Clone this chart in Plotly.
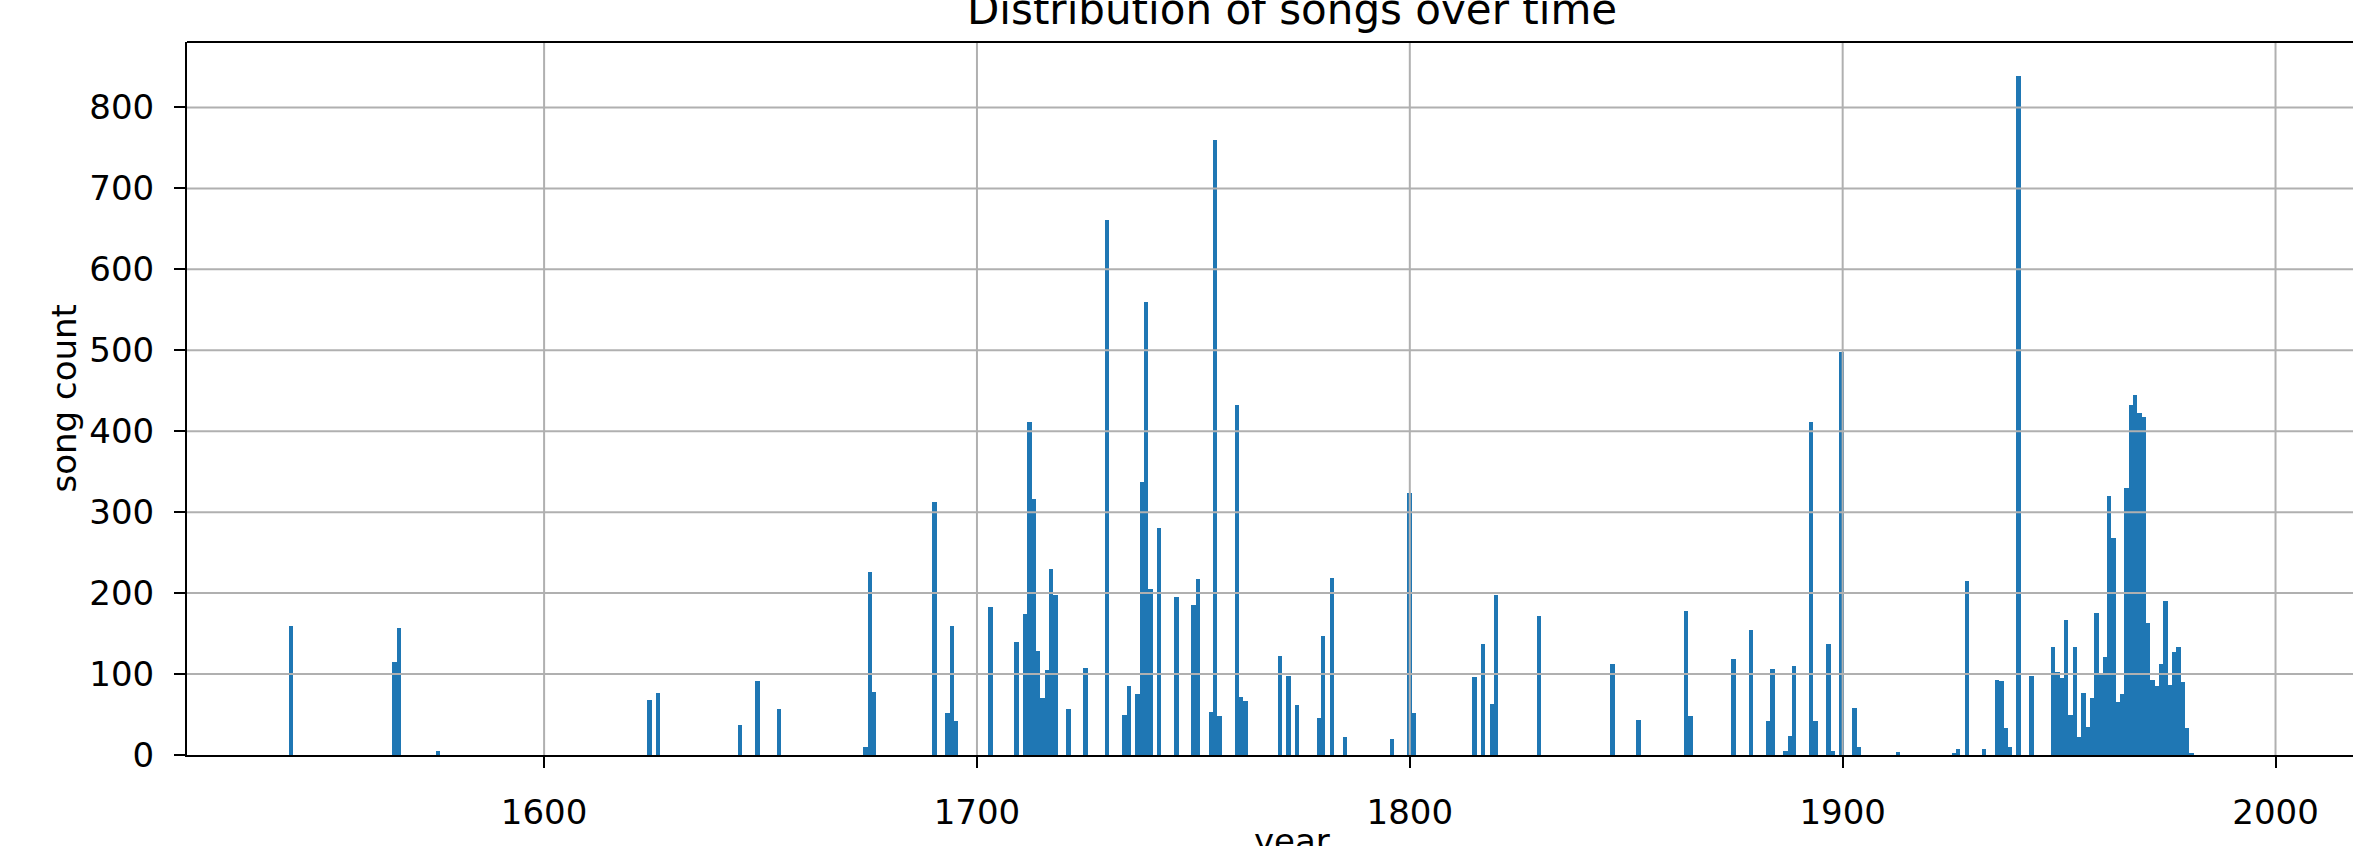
import plotly.graph_objects as go

# Histogram binning of the original: 471 equal bins spanning the year range
BIN_START = 1541
BIN_END = 2011
N_BINS = 471

# Year (integer year falling in a bin) and song count for each non-empty bin
years = [1541, 1565, 1566, 1575, 1624, 1626, 1645, 1649, 1654,
         1674, 1675, 1676, 1690, 1693, 1694, 1695, 1703, 1709,
         1711, 1712, 1713, 1714, 1715, 1716, 1717, 1718, 1721, 1725,
         1730, 1734, 1735, 1737, 1738, 1739, 1740, 1742, 1746,
         1750, 1751, 1754, 1755, 1756, 1760, 1761, 1762,
         1770, 1772, 1774, 1779, 1780, 1782, 1785, 1796,
         1800, 1801, 1815, 1817, 1819, 1820, 1830, 1847, 1853,
         1864, 1865, 1875, 1879, 1883, 1884, 1887, 1888, 1889,
         1893, 1894, 1897, 1898, 1900, 1903, 1904, 1913,
         1926, 1927, 1929, 1933, 1936, 1937, 1938, 1939, 1941, 1944,
         1949, 1950, 1951, 1952, 1953, 1954, 1955, 1956, 1957, 1958,
         1959, 1960, 1961, 1962, 1963, 1964, 1965, 1966, 1967, 1968,
         1969, 1970, 1971, 1972, 1973, 1974, 1975, 1976, 1977, 1978,
         1979, 1980, 1981]
counts = [160, 115, 157, 5, 68, 77, 37, 92, 57,
          10, 226, 78, 313, 52, 160, 42, 183, 140,
          174, 411, 316, 128, 70, 105, 230, 198, 57, 108,
          661, 50, 85, 75, 337, 560, 205, 280, 195,
          185, 218, 53, 760, 48, 433, 72, 67,
          122, 98, 62, 46, 147, 219, 22, 20,
          324, 52, 96, 137, 63, 198, 172, 112, 43,
          178, 48, 118, 155, 42, 106, 5, 23, 110,
          412, 42, 137, 5, 498, 58, 10, 4,
          3, 7, 215, 8, 93, 91, 33, 10, 839, 97,
          133, 102, 95, 167, 50, 133, 22, 76, 35, 70,
          176, 100, 121, 320, 268, 65, 75, 330, 432, 445,
          423, 418, 163, 93, 85, 113, 190, 87, 127, 133,
          90, 33, 2]

x_ticks = [1600, 1700, 1800, 1900, 2000]
y_ticks = [0, 100, 200, 300, 400, 500, 600, 700, 800]

TITLE = "Distribution of songs over time"
X_LABEL = "year"
Y_LABEL = "song count"

BAR_COLOR = "#1f77b4"
GRID_COLOR = "#b0b0b0"
FONT = "DejaVu Sans"

W, H = 2353, 846
M_L, M_T, M_B = 187, 42, 91
plot_w = W - M_L
plot_h = H - M_T - M_B

bin_size = (BIN_END - BIN_START) / N_BINS

fig = go.Figure(
    go.Histogram(
        x=years,
        y=counts,
        histfunc="sum",
        xbins=dict(start=BIN_START, end=BIN_END, size=bin_size),
        marker=dict(color=BAR_COLOR, line=dict(width=0)),
        showlegend=False,
    )
)

axis_common = dict(
    showline=True,
    linecolor="black",
    linewidth=2,
    ticks="outside",
    ticklen=11,
    tickwidth=2,
    tickcolor="black",
    showgrid=False,
    zeroline=False,
    layer="above traces",
    tickfont=dict(family=FONT, size=34, color="black"),
)

fig.update_layout(
    width=W,
    height=H,
    margin=dict(l=M_L, r=0, t=M_T, b=M_B, pad=0),
    paper_bgcolor="white",
    plot_bgcolor="white",
    bargap=0,
    font=dict(family=FONT, color="black"),
    xaxis=dict(range=[1517.5, 2017.9], tickvals=x_ticks,
               ticktext=[str(v) for v in x_ticks], ticklabelstandoff=15,
               **axis_common),
    yaxis=dict(range=[0, 880.9], tickvals=y_ticks,
               ticktext=[str(v) for v in y_ticks], ticklabelstandoff=13,
               **axis_common),
)

# grid drawn above the bars (as in the original)
for v in y_ticks[1:]:
    fig.add_shape(type="line", xref="paper", x0=0, x1=1, yref="y", y0=v, y1=v,
                  line=dict(color=GRID_COLOR, width=2), layer="above")
for v in x_ticks:
    fig.add_shape(type="line", xref="x", x0=v, x1=v, yref="paper", y0=0, y1=1,
                  line=dict(color=GRID_COLOR, width=2), layer="above")
# top spine
fig.add_shape(type="line", xref="paper", x0=0, x1=1, yref="paper", y0=1, y1=1,
              line=dict(color="black", width=2), layer="above")

def py(px):
    return (H - M_B - px) / plot_h

def pxx(px):
    return (px - M_L) / plot_w

fig.add_annotation(text=TITLE, xref="paper", yref="paper", x=pxx(1292), y=py(36),
                   xanchor="center", yanchor="bottom", showarrow=False,
                   font=dict(family=FONT, size=42, color="black"))
fig.add_annotation(text=X_LABEL, xref="paper", yref="paper", x=pxx(1292), y=py(819),
                   xanchor="center", yanchor="top", showarrow=False,
                   font=dict(family=FONT, size=34, color="black"))
fig.add_annotation(text=Y_LABEL, xref="paper", yref="paper", x=pxx(63), y=0.5,
                   xanchor="center", yanchor="middle", textangle=-90, showarrow=False,
                   font=dict(family=FONT, size=34, color="black"))

fig.write_html(
    "out.html",
    config={"displayModeBar": False},
    post_script=("document.body.style.margin='0';"
                 "document.documentElement.style.overflow='hidden';"
                 "document.body.style.overflow='hidden';"),
)
